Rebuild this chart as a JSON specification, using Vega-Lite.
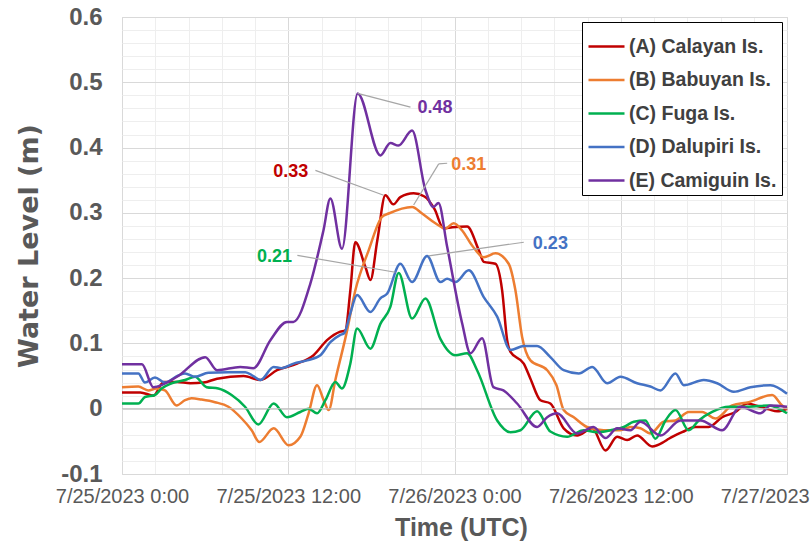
{
  "$schema": "https://vega.github.io/schema/vega-lite/v6.json",
  "autosize": {"type": "none"},
  "padding": {"left": 122, "top": 17, "right": 24, "bottom": 70},
  "width": 665,
  "height": 457,
  "background": "white",
  "config": {
    "font": "Liberation Sans",
    "view": {"stroke": "#d9d9d9", "strokeWidth": 1},
    "axis": {"labelOverlap": false, "labelBound": false, "labelFlush": false, "ticks": false, "domain": false}
  },
  "datasets": {
    "series": [
      {"s": "(A) Calayan Is.", "h": 0, "v": 0.025},
      {"s": "(A) Calayan Is.", "h": 1.32, "v": 0.025},
      {"s": "(A) Calayan Is.", "h": 2.28, "v": 0.02},
      {"s": "(A) Calayan Is.", "h": 3.0, "v": 0.041},
      {"s": "(A) Calayan Is.", "h": 3.97, "v": 0.041},
      {"s": "(A) Calayan Is.", "h": 4.93, "v": 0.039},
      {"s": "(A) Calayan Is.", "h": 5.89, "v": 0.04},
      {"s": "(A) Calayan Is.", "h": 6.86, "v": 0.046},
      {"s": "(A) Calayan Is.", "h": 8.78, "v": 0.05},
      {"s": "(A) Calayan Is.", "h": 9.99, "v": 0.044},
      {"s": "(A) Calayan Is.", "h": 11.19, "v": 0.059},
      {"s": "(A) Calayan Is.", "h": 12.64, "v": 0.069},
      {"s": "(A) Calayan Is.", "h": 13.83, "v": 0.082},
      {"s": "(A) Calayan Is.", "h": 14.8, "v": 0.105},
      {"s": "(A) Calayan Is.", "h": 15.76, "v": 0.118},
      {"s": "(A) Calayan Is.", "h": 16.12, "v": 0.12},
      {"s": "(A) Calayan Is.", "h": 16.48, "v": 0.181},
      {"s": "(A) Calayan Is.", "h": 16.84, "v": 0.255},
      {"s": "(A) Calayan Is.", "h": 17.57, "v": 0.217},
      {"s": "(A) Calayan Is.", "h": 17.93, "v": 0.197},
      {"s": "(A) Calayan Is.", "h": 18.43, "v": 0.258},
      {"s": "(A) Calayan Is.", "h": 19.01, "v": 0.327},
      {"s": "(A) Calayan Is.", "h": 19.59, "v": 0.313},
      {"s": "(A) Calayan Is.", "h": 20.09, "v": 0.324},
      {"s": "(A) Calayan Is.", "h": 21.05, "v": 0.33},
      {"s": "(A) Calayan Is.", "h": 21.83, "v": 0.325},
      {"s": "(A) Calayan Is.", "h": 22.55, "v": 0.306},
      {"s": "(A) Calayan Is.", "h": 23.22, "v": 0.276},
      {"s": "(A) Calayan Is.", "h": 23.85, "v": 0.278},
      {"s": "(A) Calayan Is.", "h": 24.91, "v": 0.279},
      {"s": "(A) Calayan Is.", "h": 25.75, "v": 0.243},
      {"s": "(A) Calayan Is.", "h": 26.11, "v": 0.225},
      {"s": "(A) Calayan Is.", "h": 26.95, "v": 0.222},
      {"s": "(A) Calayan Is.", "h": 27.44, "v": 0.181},
      {"s": "(A) Calayan Is.", "h": 27.8, "v": 0.105},
      {"s": "(A) Calayan Is.", "h": 28.04, "v": 0.087},
      {"s": "(A) Calayan Is.", "h": 29.0, "v": 0.069},
      {"s": "(A) Calayan Is.", "h": 29.48, "v": 0.046},
      {"s": "(A) Calayan Is.", "h": 30.2, "v": 0.013},
      {"s": "(A) Calayan Is.", "h": 30.92, "v": 0.008},
      {"s": "(A) Calayan Is.", "h": 31.88, "v": -0.03},
      {"s": "(A) Calayan Is.", "h": 32.85, "v": -0.041},
      {"s": "(A) Calayan Is.", "h": 33.94, "v": -0.03},
      {"s": "(A) Calayan Is.", "h": 34.9, "v": -0.064},
      {"s": "(A) Calayan Is.", "h": 35.74, "v": -0.043},
      {"s": "(A) Calayan Is.", "h": 36.46, "v": -0.048},
      {"s": "(A) Calayan Is.", "h": 37.18, "v": -0.041},
      {"s": "(A) Calayan Is.", "h": 38.27, "v": -0.058},
      {"s": "(A) Calayan Is.", "h": 39.1, "v": -0.051},
      {"s": "(A) Calayan Is.", "h": 39.47, "v": -0.046},
      {"s": "(A) Calayan Is.", "h": 40.43, "v": -0.036},
      {"s": "(A) Calayan Is.", "h": 41.39, "v": -0.028},
      {"s": "(A) Calayan Is.", "h": 42.35, "v": -0.028},
      {"s": "(A) Calayan Is.", "h": 43.32, "v": -0.013},
      {"s": "(A) Calayan Is.", "h": 44.28, "v": -0.005},
      {"s": "(A) Calayan Is.", "h": 45.13, "v": 0.008},
      {"s": "(A) Calayan Is.", "h": 45.73, "v": 0.005},
      {"s": "(A) Calayan Is.", "h": 46.69, "v": -0.001},
      {"s": "(A) Calayan Is.", "h": 47.29, "v": -0.004},
      {"s": "(A) Calayan Is.", "h": 48, "v": 0.0},

      {"s": "(B) Babuyan Is.", "h": 0, "v": 0.033},
      {"s": "(B) Babuyan Is.", "h": 1.18, "v": 0.034},
      {"s": "(B) Babuyan Is.", "h": 1.9, "v": 0.028},
      {"s": "(B) Babuyan Is.", "h": 2.48, "v": 0.031},
      {"s": "(B) Babuyan Is.", "h": 3.1, "v": 0.028},
      {"s": "(B) Babuyan Is.", "h": 3.94, "v": 0.005},
      {"s": "(B) Babuyan Is.", "h": 4.55, "v": 0.013},
      {"s": "(B) Babuyan Is.", "h": 5.03, "v": 0.016},
      {"s": "(B) Babuyan Is.", "h": 5.75, "v": 0.014},
      {"s": "(B) Babuyan Is.", "h": 6.71, "v": 0.01},
      {"s": "(B) Babuyan Is.", "h": 7.68, "v": 0.003},
      {"s": "(B) Babuyan Is.", "h": 8.64, "v": -0.015},
      {"s": "(B) Babuyan Is.", "h": 9.36, "v": -0.033},
      {"s": "(B) Babuyan Is.", "h": 9.91, "v": -0.051},
      {"s": "(B) Babuyan Is.", "h": 10.95, "v": -0.03},
      {"s": "(B) Babuyan Is.", "h": 12.03, "v": -0.056},
      {"s": "(B) Babuyan Is.", "h": 12.87, "v": -0.043},
      {"s": "(B) Babuyan Is.", "h": 13.47, "v": -0.007},
      {"s": "(B) Babuyan Is.", "h": 14.08, "v": 0.036},
      {"s": "(B) Babuyan Is.", "h": 14.56, "v": 0.013},
      {"s": "(B) Babuyan Is.", "h": 14.92, "v": -0.002},
      {"s": "(B) Babuyan Is.", "h": 15.4, "v": 0.044},
      {"s": "(B) Babuyan Is.", "h": 16.25, "v": 0.12},
      {"s": "(B) Babuyan Is.", "h": 16.84, "v": 0.181},
      {"s": "(B) Babuyan Is.", "h": 17.81, "v": 0.243},
      {"s": "(B) Babuyan Is.", "h": 18.77, "v": 0.294},
      {"s": "(B) Babuyan Is.", "h": 19.25, "v": 0.299},
      {"s": "(B) Babuyan Is.", "h": 20.94, "v": 0.309},
      {"s": "(B) Babuyan Is.", "h": 21.66, "v": 0.299},
      {"s": "(B) Babuyan Is.", "h": 22.62, "v": 0.284},
      {"s": "(B) Babuyan Is.", "h": 23.34, "v": 0.276},
      {"s": "(B) Babuyan Is.", "h": 23.94, "v": 0.284},
      {"s": "(B) Babuyan Is.", "h": 24.55, "v": 0.273},
      {"s": "(B) Babuyan Is.", "h": 25.27, "v": 0.25},
      {"s": "(B) Babuyan Is.", "h": 26.11, "v": 0.232},
      {"s": "(B) Babuyan Is.", "h": 26.95, "v": 0.238},
      {"s": "(B) Babuyan Is.", "h": 27.91, "v": 0.222},
      {"s": "(B) Babuyan Is.", "h": 28.4, "v": 0.181},
      {"s": "(B) Babuyan Is.", "h": 28.88, "v": 0.11},
      {"s": "(B) Babuyan Is.", "h": 29.48, "v": 0.074},
      {"s": "(B) Babuyan Is.", "h": 30.69, "v": 0.059},
      {"s": "(B) Babuyan Is.", "h": 31.36, "v": 0.036},
      {"s": "(B) Babuyan Is.", "h": 31.88, "v": -0.002},
      {"s": "(B) Babuyan Is.", "h": 32.61, "v": -0.013},
      {"s": "(B) Babuyan Is.", "h": 33.57, "v": -0.028},
      {"s": "(B) Babuyan Is.", "h": 34.77, "v": -0.033},
      {"s": "(B) Babuyan Is.", "h": 35.97, "v": -0.033},
      {"s": "(B) Babuyan Is.", "h": 36.7, "v": -0.028},
      {"s": "(B) Babuyan Is.", "h": 37.42, "v": -0.03},
      {"s": "(B) Babuyan Is.", "h": 38.14, "v": -0.038},
      {"s": "(B) Babuyan Is.", "h": 39.1, "v": -0.02},
      {"s": "(B) Babuyan Is.", "h": 39.95, "v": -0.018},
      {"s": "(B) Babuyan Is.", "h": 40.91, "v": -0.005},
      {"s": "(B) Babuyan Is.", "h": 41.88, "v": -0.005},
      {"s": "(B) Babuyan Is.", "h": 42.84, "v": -0.015},
      {"s": "(B) Babuyan Is.", "h": 44.04, "v": 0.005},
      {"s": "(B) Babuyan Is.", "h": 45.24, "v": 0.01},
      {"s": "(B) Babuyan Is.", "h": 46.93, "v": 0.021},
      {"s": "(B) Babuyan Is.", "h": 47.65, "v": 0.005},
      {"s": "(B) Babuyan Is.", "h": 48, "v": 0.0},

      {"s": "(C) Fuga Is.", "h": 0, "v": 0.008},
      {"s": "(C) Fuga Is.", "h": 1.18, "v": 0.008},
      {"s": "(C) Fuga Is.", "h": 1.66, "v": 0.018},
      {"s": "(C) Fuga Is.", "h": 2.38, "v": 0.021},
      {"s": "(C) Fuga Is.", "h": 2.86, "v": 0.031},
      {"s": "(C) Fuga Is.", "h": 3.58, "v": 0.039},
      {"s": "(C) Fuga Is.", "h": 4.55, "v": 0.044},
      {"s": "(C) Fuga Is.", "h": 5.27, "v": 0.049},
      {"s": "(C) Fuga Is.", "h": 6.11, "v": 0.033},
      {"s": "(C) Fuga Is.", "h": 6.95, "v": 0.031},
      {"s": "(C) Fuga Is.", "h": 7.91, "v": 0.021},
      {"s": "(C) Fuga Is.", "h": 8.88, "v": 0.003},
      {"s": "(C) Fuga Is.", "h": 9.84, "v": -0.024},
      {"s": "(C) Fuga Is.", "h": 10.95, "v": 0.008},
      {"s": "(C) Fuga Is.", "h": 11.91, "v": -0.013},
      {"s": "(C) Fuga Is.", "h": 12.87, "v": -0.005},
      {"s": "(C) Fuga Is.", "h": 13.47, "v": 0.0},
      {"s": "(C) Fuga Is.", "h": 14.08, "v": -0.007},
      {"s": "(C) Fuga Is.", "h": 14.68, "v": 0.013},
      {"s": "(C) Fuga Is.", "h": 15.4, "v": 0.041},
      {"s": "(C) Fuga Is.", "h": 15.88, "v": 0.031},
      {"s": "(C) Fuga Is.", "h": 16.48, "v": 0.069},
      {"s": "(C) Fuga Is.", "h": 16.97, "v": 0.123},
      {"s": "(C) Fuga Is.", "h": 17.93, "v": 0.092},
      {"s": "(C) Fuga Is.", "h": 18.65, "v": 0.13},
      {"s": "(C) Fuga Is.", "h": 19.37, "v": 0.156},
      {"s": "(C) Fuga Is.", "h": 19.97, "v": 0.208},
      {"s": "(C) Fuga Is.", "h": 20.94, "v": 0.138},
      {"s": "(C) Fuga Is.", "h": 21.9, "v": 0.169},
      {"s": "(C) Fuga Is.", "h": 22.98, "v": 0.107},
      {"s": "(C) Fuga Is.", "h": 24.07, "v": 0.082},
      {"s": "(C) Fuga Is.", "h": 24.91, "v": 0.085},
      {"s": "(C) Fuga Is.", "h": 25.63, "v": 0.059},
      {"s": "(C) Fuga Is.", "h": 27.08, "v": -0.018},
      {"s": "(C) Fuga Is.", "h": 28.04, "v": -0.036},
      {"s": "(C) Fuga Is.", "h": 28.76, "v": -0.033},
      {"s": "(C) Fuga Is.", "h": 29.96, "v": -0.004},
      {"s": "(C) Fuga Is.", "h": 30.92, "v": -0.035},
      {"s": "(C) Fuga Is.", "h": 32.13, "v": -0.043},
      {"s": "(C) Fuga Is.", "h": 33.33, "v": -0.033},
      {"s": "(C) Fuga Is.", "h": 34.3, "v": -0.036},
      {"s": "(C) Fuga Is.", "h": 35.26, "v": -0.033},
      {"s": "(C) Fuga Is.", "h": 36.22, "v": -0.028},
      {"s": "(C) Fuga Is.", "h": 36.94, "v": -0.02},
      {"s": "(C) Fuga Is.", "h": 37.78, "v": -0.018},
      {"s": "(C) Fuga Is.", "h": 38.5, "v": -0.046},
      {"s": "(C) Fuga Is.", "h": 39.23, "v": -0.018},
      {"s": "(C) Fuga Is.", "h": 39.95, "v": -0.002},
      {"s": "(C) Fuga Is.", "h": 40.91, "v": -0.033},
      {"s": "(C) Fuga Is.", "h": 41.63, "v": -0.018},
      {"s": "(C) Fuga Is.", "h": 42.6, "v": -0.005},
      {"s": "(C) Fuga Is.", "h": 43.8, "v": 0.003},
      {"s": "(C) Fuga Is.", "h": 45.22, "v": 0.003},
      {"s": "(C) Fuga Is.", "h": 46.69, "v": 0.005},
      {"s": "(C) Fuga Is.", "h": 48, "v": -0.007},

      {"s": "(D) Dalupiri Is.", "h": 0, "v": 0.054},
      {"s": "(D) Dalupiri Is.", "h": 1.18, "v": 0.054},
      {"s": "(D) Dalupiri Is.", "h": 1.66, "v": 0.04},
      {"s": "(D) Dalupiri Is.", "h": 2.38, "v": 0.048},
      {"s": "(D) Dalupiri Is.", "h": 3.1, "v": 0.04},
      {"s": "(D) Dalupiri Is.", "h": 4.07, "v": 0.051},
      {"s": "(D) Dalupiri Is.", "h": 4.55, "v": 0.054},
      {"s": "(D) Dalupiri Is.", "h": 5.27, "v": 0.049},
      {"s": "(D) Dalupiri Is.", "h": 6.23, "v": 0.055},
      {"s": "(D) Dalupiri Is.", "h": 7.68, "v": 0.056},
      {"s": "(D) Dalupiri Is.", "h": 8.9, "v": 0.056},
      {"s": "(D) Dalupiri Is.", "h": 9.48, "v": 0.05},
      {"s": "(D) Dalupiri Is.", "h": 9.99, "v": 0.044},
      {"s": "(D) Dalupiri Is.", "h": 10.95, "v": 0.064},
      {"s": "(D) Dalupiri Is.", "h": 11.5, "v": 0.062},
      {"s": "(D) Dalupiri Is.", "h": 12.39, "v": 0.069},
      {"s": "(D) Dalupiri Is.", "h": 13.36, "v": 0.074},
      {"s": "(D) Dalupiri Is.", "h": 14.32, "v": 0.082},
      {"s": "(D) Dalupiri Is.", "h": 15.04, "v": 0.102},
      {"s": "(D) Dalupiri Is.", "h": 15.76, "v": 0.113},
      {"s": "(D) Dalupiri Is.", "h": 16.05, "v": 0.116},
      {"s": "(D) Dalupiri Is.", "h": 16.48, "v": 0.146},
      {"s": "(D) Dalupiri Is.", "h": 16.97, "v": 0.174},
      {"s": "(D) Dalupiri Is.", "h": 17.93, "v": 0.148},
      {"s": "(D) Dalupiri Is.", "h": 18.65, "v": 0.169},
      {"s": "(D) Dalupiri Is.", "h": 19.13, "v": 0.176},
      {"s": "(D) Dalupiri Is.", "h": 20.09, "v": 0.222},
      {"s": "(D) Dalupiri Is.", "h": 20.94, "v": 0.194},
      {"s": "(D) Dalupiri Is.", "h": 22.02, "v": 0.234},
      {"s": "(D) Dalupiri Is.", "h": 22.98, "v": 0.194},
      {"s": "(D) Dalupiri Is.", "h": 23.47, "v": 0.199},
      {"s": "(D) Dalupiri Is.", "h": 24.07, "v": 0.194},
      {"s": "(D) Dalupiri Is.", "h": 25.03, "v": 0.212},
      {"s": "(D) Dalupiri Is.", "h": 26.11, "v": 0.171},
      {"s": "(D) Dalupiri Is.", "h": 27.08, "v": 0.141},
      {"s": "(D) Dalupiri Is.", "h": 28.04, "v": 0.09},
      {"s": "(D) Dalupiri Is.", "h": 29.0, "v": 0.096},
      {"s": "(D) Dalupiri Is.", "h": 29.96, "v": 0.096},
      {"s": "(D) Dalupiri Is.", "h": 30.92, "v": 0.079},
      {"s": "(D) Dalupiri Is.", "h": 31.88, "v": 0.059},
      {"s": "(D) Dalupiri Is.", "h": 32.97, "v": 0.054},
      {"s": "(D) Dalupiri Is.", "h": 33.94, "v": 0.064},
      {"s": "(D) Dalupiri Is.", "h": 35.02, "v": 0.039},
      {"s": "(D) Dalupiri Is.", "h": 35.98, "v": 0.049},
      {"s": "(D) Dalupiri Is.", "h": 37.18, "v": 0.039},
      {"s": "(D) Dalupiri Is.", "h": 38.14, "v": 0.034},
      {"s": "(D) Dalupiri Is.", "h": 38.87, "v": 0.028},
      {"s": "(D) Dalupiri Is.", "h": 39.95, "v": 0.054},
      {"s": "(D) Dalupiri Is.", "h": 40.55, "v": 0.036},
      {"s": "(D) Dalupiri Is.", "h": 41.99, "v": 0.044},
      {"s": "(D) Dalupiri Is.", "h": 42.96, "v": 0.039},
      {"s": "(D) Dalupiri Is.", "h": 44.16, "v": 0.026},
      {"s": "(D) Dalupiri Is.", "h": 45.36, "v": 0.033},
      {"s": "(D) Dalupiri Is.", "h": 46.81, "v": 0.036},
      {"s": "(D) Dalupiri Is.", "h": 48, "v": 0.023},

      {"s": "(E) Camiguin Is.", "h": 0, "v": 0.068},
      {"s": "(E) Camiguin Is.", "h": 1.44, "v": 0.068},
      {"s": "(E) Camiguin Is.", "h": 2.26, "v": 0.033},
      {"s": "(E) Camiguin Is.", "h": 3.97, "v": 0.049},
      {"s": "(E) Camiguin Is.", "h": 6.01, "v": 0.079},
      {"s": "(E) Camiguin Is.", "h": 6.86, "v": 0.059},
      {"s": "(E) Camiguin Is.", "h": 8.54, "v": 0.064},
      {"s": "(E) Camiguin Is.", "h": 9.48, "v": 0.062},
      {"s": "(E) Camiguin Is.", "h": 10.71, "v": 0.105},
      {"s": "(E) Camiguin Is.", "h": 11.91, "v": 0.133},
      {"s": "(E) Camiguin Is.", "h": 12.37, "v": 0.133},
      {"s": "(E) Camiguin Is.", "h": 13.6, "v": 0.192},
      {"s": "(E) Camiguin Is.", "h": 14.54, "v": 0.273},
      {"s": "(E) Camiguin Is.", "h": 15.04, "v": 0.322},
      {"s": "(E) Camiguin Is.", "h": 15.88, "v": 0.245},
      {"s": "(E) Camiguin Is.", "h": 17.01, "v": 0.483},
      {"s": "(E) Camiguin Is.", "h": 18.65, "v": 0.388},
      {"s": "(E) Camiguin Is.", "h": 19.37, "v": 0.407},
      {"s": "(E) Camiguin Is.", "h": 19.95, "v": 0.403},
      {"s": "(E) Camiguin Is.", "h": 20.94, "v": 0.426},
      {"s": "(E) Camiguin Is.", "h": 21.9, "v": 0.335},
      {"s": "(E) Camiguin Is.", "h": 22.48, "v": 0.309},
      {"s": "(E) Camiguin Is.", "h": 22.84, "v": 0.315},
      {"s": "(E) Camiguin Is.", "h": 23.47, "v": 0.248},
      {"s": "(E) Camiguin Is.", "h": 24.55, "v": 0.131},
      {"s": "(E) Camiguin Is.", "h": 25.15, "v": 0.085},
      {"s": "(E) Camiguin Is.", "h": 25.99, "v": 0.108},
      {"s": "(E) Camiguin Is.", "h": 26.81, "v": 0.033},
      {"s": "(E) Camiguin Is.", "h": 27.53, "v": 0.028},
      {"s": "(E) Camiguin Is.", "h": 28.52, "v": 0.008},
      {"s": "(E) Camiguin Is.", "h": 29.96, "v": -0.028},
      {"s": "(E) Camiguin Is.", "h": 30.69, "v": -0.013},
      {"s": "(E) Camiguin Is.", "h": 31.41, "v": -0.007},
      {"s": "(E) Camiguin Is.", "h": 32.85, "v": -0.038},
      {"s": "(E) Camiguin Is.", "h": 34.03, "v": -0.028},
      {"s": "(E) Camiguin Is.", "h": 34.9, "v": -0.045},
      {"s": "(E) Camiguin Is.", "h": 35.74, "v": -0.03},
      {"s": "(E) Camiguin Is.", "h": 36.7, "v": -0.033},
      {"s": "(E) Camiguin Is.", "h": 37.42, "v": -0.02},
      {"s": "(E) Camiguin Is.", "h": 38.87, "v": -0.041},
      {"s": "(E) Camiguin Is.", "h": 40.31, "v": -0.018},
      {"s": "(E) Camiguin Is.", "h": 41.76, "v": -0.018},
      {"s": "(E) Camiguin Is.", "h": 43.32, "v": -0.033},
      {"s": "(E) Camiguin Is.", "h": 44.64, "v": 0.003},
      {"s": "(E) Camiguin Is.", "h": 46.09, "v": -0.007},
      {"s": "(E) Camiguin Is.", "h": 46.81, "v": 0.005},
      {"s": "(E) Camiguin Is.", "h": 48, "v": 0.003}
    ],
    "notes": [
      {"s": "(A) Calayan Is.", "t": "0.33", "h": 12.18, "v": 0.362},
      {"s": "(B) Babuyan Is.", "t": "0.31", "h": 25.03, "v": 0.373},
      {"s": "(C) Fuga Is.", "t": "0.21", "h": 11.0, "v": 0.232},
      {"s": "(D) Dalupiri Is.", "t": "0.23", "h": 30.92, "v": 0.253},
      {"s": "(E) Camiguin Is.", "t": "0.48", "h": 22.6, "v": 0.46}
    ],
    "leaders": [
      {"h": 17.01, "v": 0.483, "h2": 20.82, "v2": 0.462},
      {"h": 13.96, "v": 0.365, "h2": 18.89, "v2": 0.327},
      {"h": 23.47, "v": 0.376, "h2": 22.86, "v2": 0.375},
      {"h": 22.86, "v": 0.375, "h2": 21.05, "v2": 0.312},
      {"h": 12.66, "v": 0.235, "h2": 19.73, "v2": 0.209},
      {"h": 29.0, "v": 0.255, "h2": 22.14, "v2": 0.234}
    ],
    "zero": [{"h": 0, "h2": 48, "v": 0, "v2": 0}]
  },
  "encoding": {
    "x": {
      "field": "h", "type": "quantitative", "title": "Time (UTC)",
      "scale": {"domain": [0, 48], "nice": false, "zero": false},
      "axis": {
        "values": [0, 2.4, 4.8, 7.2, 9.6, 12, 14.4, 16.8, 19.2, 21.6, 24, 26.4, 28.8, 31.2, 33.6, 36, 38.4, 40.8, 43.2, 45.6, 48],
        "labelExpr": "datum.value == 0 ? '7/25/2023 0:00' : datum.value == 12 ? '7/25/2023 12:00' : datum.value == 24 ? '7/26/2023 0:00' : datum.value == 36 ? '7/26/2023 12:00' : datum.value == 48 ? '7/27/2023 0:00' : ''",
        "labelOverlap": false,
        "labelFontSize": 20,
        "labelColor": "#595959",
        "labelPadding": 12,
        "gridColor": {"condition": {"test": "datum.value % 12 == 0", "value": "#d9d9d9"}, "value": "#eeeeee"},
        "titleFontSize": 25,
        "titleFontWeight": "bold",
        "titleColor": "#595959",
        "titlePadding": 9,
        "titleX": 339
      }
    },
    "y": {
      "field": "v", "type": "quantitative", "title": "Water Level (m)",
      "scale": {"domain": [-0.1, 0.6], "nice": false},
      "axis": {
        "values": [-0.1, -0.08, -0.06, -0.04, -0.02, 0, 0.02, 0.04, 0.06, 0.08, 0.1, 0.12, 0.14, 0.16, 0.18, 0.2, 0.22, 0.24, 0.26, 0.28, 0.3, 0.32, 0.34, 0.36, 0.38, 0.4, 0.42, 0.44, 0.46, 0.48, 0.5, 0.52, 0.54, 0.56, 0.58, 0.6],
        "labelExpr": "abs(datum.value*10 - round(datum.value*10)) < 0.001 ? (datum.value < -0.05 ? '-0.1' : format(datum.value, '.1~f')) : ''",
        "labelOverlap": false,
        "labelFontSize": 24,
        "labelFontWeight": "bold",
        "labelColor": "#595959",
        "labelPadding": 20,
        "gridColor": {"condition": {"test": "abs(datum.value*10 - round(datum.value*10)) < 0.001", "value": "#d9d9d9"}, "value": "#eeeeee"},
        "titleFont": "DejaVu Sans",
        "titleFontSize": 27,
        "titleFontWeight": "bold",
        "titleColor": "#595959",
        "titlePadding": 17
      }
    }
  },
  "layer": [
    {
      "data": {"name": "series"},
      "mark": {"type": "line", "interpolate": "monotone", "strokeWidth": 2.5},
      "encoding": {
        "color": {
          "field": "s", "type": "nominal",
          "scale": {
            "domain": ["(A) Calayan Is.", "(B) Babuyan Is.", "(C) Fuga Is.", "(D) Dalupiri Is.", "(E) Camiguin Is."],
            "range": ["#C00000", "#ED7D31", "#00B050", "#4472C4", "#7030A0"]
          },
          "legend": {
            "title": null,
            "orient": "top-right",
            "offset": 5,
            "fillColor": "white",
            "strokeColor": "#000000",
            "padding": 5,
            "symbolType": "stroke",
            "symbolSize": 1296,
            "symbolStrokeWidth": 2.5,
            "labelFontSize": 19.5,
            "labelFontWeight": "bold",
            "labelColor": "#404040",
            "labelOffset": 3,
            "rowPadding": 4.5,
            "labelLimit": 300
          }
        }
      }
    },
    {
      "data": {"name": "zero"},
      "mark": {"type": "rule", "color": "#bfbfbf", "strokeWidth": 1},
      "encoding": {
        "x2": {"field": "h2"},
        "y2": {"field": "v2"}
      }
    },
    {
      "data": {"name": "leaders"},
      "mark": {"type": "rule", "color": "#a6a6a6", "strokeWidth": 1.2},
      "encoding": {
        "x2": {"field": "h2"},
        "y2": {"field": "v2"}
      }
    },
    {
      "data": {"name": "notes"},
      "mark": {"type": "text", "fontSize": 18, "fontWeight": "bold", "align": "center", "baseline": "middle"},
      "encoding": {
        "text": {"field": "t"},
        "color": {"field": "s", "type": "nominal", "legend": null}
      }
    }
  ]
}
